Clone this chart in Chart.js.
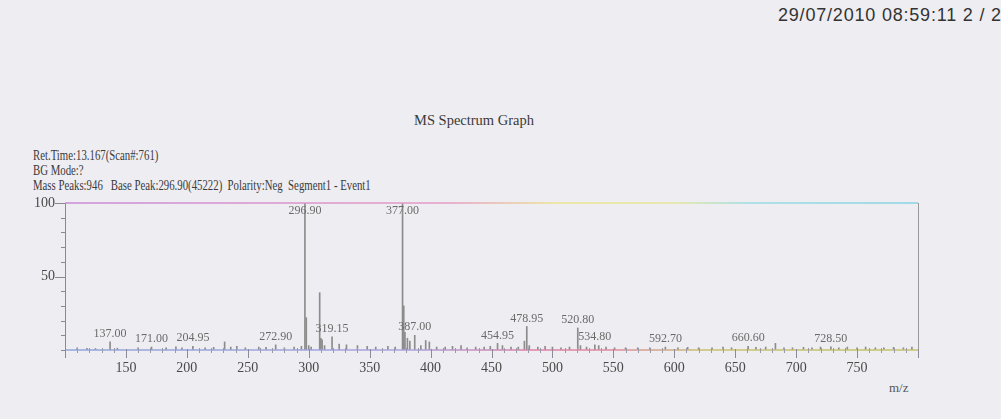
<!DOCTYPE html>
<html>
<head>
<meta charset="utf-8">
<script src="https://cdn.jsdelivr.net/npm/chart.js@4.4.1/dist/chart.umd.min.js"></script>
<style>
  body { margin: 0; background: #eeedf2; width: 1001px; height: 419px; overflow: hidden; position: relative; }
  .txt { position: absolute; white-space: pre; color: #3a3a3a; }
  .serif { font-family: "Liberation Serif", "Times New Roman", serif; }
  #stamp { left: 778px; top: 5px; font: 18px "Liberation Sans", Arial, sans-serif; letter-spacing: 0.8px; color: #333; }
  #title { left: 0; width: 948px; top: 112px; text-align: center; font-size: 14.5px; }
  #info { left: 33px; top: 148px; font-size: 14px; line-height: 15px; transform: scaleX(0.77); transform-origin: left top; }
  #unit { left: 889px; top: 380px; font-size: 13px; color: #555; }
  canvas { position: absolute; left: 0; top: 0; }
</style>
</head>
<body>
<div id="stamp" class="txt">29/07/2010 08:59:11 2 / 2</div>
<div id="title" class="txt serif">MS Spectrum Graph</div>
<div id="info" class="txt serif">Ret.Time:13.167(Scan#:761)
BG Mode:?
Mass Peaks:946   Base Peak:296.90(45222)  Polarity:Neg  Segment1 - Event1</div>
<div id="unit" class="txt serif">m/z</div>
<canvas id="msChart" width="1001" height="419"></canvas>
<script>
// peak list (m/z, relative intensity %)
const mzValues = [
  110, 118, 125, 137.00, 143, 160, 171.00, 183, 191, 196, 204.95, 215, 222, 231, 236, 241, 248,
  259, 265, 272.90, 280, 288, 294, 296.90, 298, 300, 302, 309, 310, 311, 313, 319.15, 325, 331,
  340, 348, 355, 365, 371, 377.00, 378, 379, 381, 383, 387.00, 392, 396, 399, 405, 412, 418,
  425, 430, 437, 444, 449, 454.95, 459, 466, 472, 477, 478.95, 481, 488, 494, 500, 507, 514,
  520.80, 523, 528, 534.80, 538, 544, 551, 560, 570, 580, 592.70, 603, 611, 620, 631, 640,
  647, 660.60, 667, 675, 683, 690, 697, 706, 713, 720, 728.50, 735, 742, 750, 757, 765, 772,
  780, 788, 795
];
const intensities = [
  1.5, 1.2, 1.0, 5.6, 1.2, 1.5, 2.0, 1.5, 2.2, 1.5, 2.5, 1.5, 1.8, 5.5, 2.0, 2.5, 1.5,
  2.0, 1.8, 3.5, 1.5, 2.0, 2.5, 100, 22, 3, 2, 39, 8, 7, 3, 9, 4, 3.5,
  3, 2.5, 2, 2.5, 2, 100, 30, 12, 8, 6, 10, 3, 6.5, 5.5, 2, 2, 2.5,
  3, 1.5, 2, 2, 2.5, 4.5, 3, 2, 2, 6, 16, 3, 2, 2.5, 2, 1.5, 2,
  15, 3, 2, 3.5, 3, 2, 1.5, 1.5, 1.5, 1.5, 2.0, 1.5, 1.8, 1.5, 1.5, 2,
  1.5, 2.5, 1.8, 2, 4.5, 1.5, 1.5, 1.8, 1.5, 2, 2.2, 1.5, 2, 1.5, 2, 1.5, 1.5,
  1.8, 1.5, 2
];
const labeledPeaks = [137.00, 171.00, 204.95, 272.90, 296.90, 319.15, 377.00, 387.00,
  454.95, 478.95, 520.80, 534.80, 592.70, 660.60, 728.50];
const xTickLabels = [150, 200, 250, 300, 350, 400, 450, 500, 550, 600, 650, 700, 750];
const yTickLabels = [50, 100];

const points = mzValues.map((m, i) => ({ x: m, y: intensities[i] }));

const framePlugin = {
  id: 'frame',
  afterDatasetsDraw(chart) {
    const { ctx, chartArea: a, scales } = chart;
    ctx.save();
    // top border
    let g = ctx.createLinearGradient(a.left, 0, a.right, 0);
    g.addColorStop(0, '#c98ad6');
    g.addColorStop(0.45, '#e59ac4');
    g.addColorStop(0.58, '#ece58c');
    g.addColorStop(0.72, '#e2e69a');
    g.addColorStop(0.8, '#9adbe2');
    g.addColorStop(1, '#86d2e2');
    ctx.strokeStyle = g;
    ctx.lineWidth = 1.5;
    ctx.beginPath();
    ctx.moveTo(a.left, a.top);
    ctx.lineTo(a.right, a.top);
    ctx.stroke();
    // right border
    ctx.strokeStyle = '#9a9a9a';
    ctx.lineWidth = 1;
    ctx.beginPath();
    ctx.moveTo(a.right + 0.5, a.top);
    ctx.lineTo(a.right + 0.5, a.bottom);
    ctx.stroke();
    // baseline
    g = ctx.createLinearGradient(a.left, 0, a.right, 0);
    g.addColorStop(0, '#8fa6dc');
    g.addColorStop(0.4, '#a9a2e0');
    g.addColorStop(0.55, '#e07fa6');
    g.addColorStop(0.64, '#e08aa0');
    g.addColorStop(0.75, '#c9c070');
    g.addColorStop(1, '#c2c46a');
    ctx.strokeStyle = g;
    ctx.lineWidth = 1.5;
    ctx.beginPath();
    ctx.moveTo(a.left, a.bottom);
    ctx.lineTo(a.right, a.bottom);
    ctx.stroke();
    // x ticks
    const xs = scales.x;
    ctx.lineWidth = 1;
    xs.ticks.forEach(t => {
      const px = Math.round(xs.getPixelForValue(t.value)) + 0.5;
      const major = t.value % 50 === 0;
      ctx.strokeStyle = major ? '#8a8a9a' : '#9a9aaa';
      ctx.beginPath();
      ctx.moveTo(px, a.bottom - (major ? 1 : 2));
      ctx.lineTo(px, a.bottom + (major ? 8 : 3));
      ctx.stroke();
    });
    // y ticks
    const ys = scales.y;
    ctx.strokeStyle = '#8a8a8a';
    ys.ticks.forEach(t => {
      const py = Math.round(ys.getPixelForValue(t.value)) + 0.5;
      const major = t.value % 50 === 0 && t.value > 0;
      ctx.beginPath();
      ctx.moveTo(a.left - (major ? 10 : 4), py);
      ctx.lineTo(a.left, py);
      ctx.stroke();
    });
    // peak labels
    const meta = chart.getDatasetMeta(0);
    ctx.fillStyle = '#6a6a6a';
    ctx.font = '12px "Liberation Serif", serif';
    ctx.textAlign = 'center';
    ctx.textBaseline = 'middle';
    labeledPeaks.forEach(m => {
      const i = mzValues.indexOf(m);
      const el = meta.data[i];
      const y = Math.max(el.y - 8, a.top + 8);
      ctx.fillText(m.toFixed(2), el.x, y);
    });
    ctx.restore();
  }
};

new Chart(document.getElementById('msChart'), {
  type: 'bar',
  data: {
    datasets: [{
      data: points,
      backgroundColor: '#8c8c8c',
      barThickness: 1,
      grouped: false
    }]
  },
  options: {
    responsive: false,
    animation: false,
    layout: { padding: { top: 203, right: 83, left: 0, bottom: 0 } },
    plugins: { legend: { display: false }, tooltip: { enabled: false } },
    scales: {
      x: {
        type: 'linear',
        min: 100,
        max: 800,
        offset: false,
        grid: { display: false, offset: false, drawTicks: false },
        border: { display: false },
        afterFit(s) { s.height = 69; },
        ticks: {
          stepSize: 10,
          autoSkip: false,
          maxRotation: 0,
          padding: 10,
          color: '#4a4a4a',
          font: { family: '"Liberation Serif", serif', size: 14 },
          callback: v => xTickLabels.includes(v) ? String(v) : ''
        }
      },
      y: {
        min: 0,
        max: 100,
        grid: { display: false, drawTicks: false },
        border: { display: true, color: '#8a8a8a', width: 1 },
        afterFit(s) { s.width = 65; },
        ticks: {
          stepSize: 10,
          autoSkip: false,
          padding: 10,
          color: '#4a4a4a',
          font: { family: '"Liberation Serif", serif', size: 14 },
          callback: v => yTickLabels.includes(v) ? String(v) : ''
        }
      }
    }
  },
  plugins: [framePlugin]
});
</script>
</body>
</html>
